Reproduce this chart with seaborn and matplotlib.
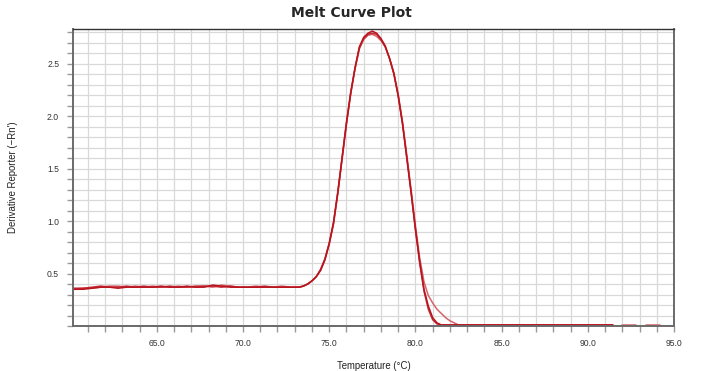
import numpy as np
import pandas as pd
import seaborn as sns
import matplotlib.pyplot as plt
from matplotlib.ticker import MultipleLocator

# temperatures (deg C)
base_temp = [60.15, 60.75, 61.25, 61.75, 62.25, 62.75, 63.25, 63.75, 64.25, 64.75,
             65.25, 65.75, 66.25, 66.75, 67.25, 67.75, 68.25, 68.75, 69.25, 69.75,
             70.25, 70.75, 71.25, 71.75, 72.25, 72.75]
peak_temp = [73.0, 73.25, 73.5, 73.75, 74.0, 74.25, 74.5, 74.75, 75.0, 75.25,
             75.5, 75.75, 76.0, 76.25, 76.5, 76.75, 77.0, 77.25, 77.5, 77.75,
             78.0, 78.25, 78.5, 78.75, 79.0, 79.25, 79.5, 79.75, 80.0, 80.25,
             80.5, 80.75, 81.0, 81.25, 81.5, 81.75, 82.0, 82.25, 82.5, 82.75]
tail_temp = [83.0, 84.0, 85.0, 86.0, 87.0, 88.0, 89.0, 90.0, 91.0, 91.45]

# derivative reporter values for the three wells
well_a_base = [0.35, 0.35, 0.36, 0.37, 0.37, 0.36, 0.37, 0.37, 0.37, 0.37,
               0.38, 0.37, 0.37, 0.38, 0.37, 0.37, 0.39, 0.38, 0.37, 0.37,
               0.37, 0.37, 0.37, 0.37, 0.37, 0.37]
well_b_base = [0.36, 0.36, 0.37, 0.38, 0.37, 0.37, 0.38, 0.37, 0.38, 0.37,
               0.37, 0.38, 0.37, 0.37, 0.38, 0.38, 0.38, 0.37, 0.38, 0.37,
               0.37, 0.37, 0.38, 0.37, 0.37, 0.37]
well_c_base = [0.35, 0.36, 0.36, 0.37, 0.38, 0.38, 0.37, 0.38, 0.37, 0.38,
               0.37, 0.37, 0.38, 0.37, 0.37, 0.38, 0.37, 0.39, 0.38, 0.37,
               0.37, 0.38, 0.37, 0.37, 0.38, 0.37]

well_a_peak = [0.37, 0.37, 0.38, 0.40, 0.43, 0.47, 0.53, 0.63, 0.78, 0.98,
               1.27, 1.60, 1.93, 2.22, 2.46, 2.66, 2.75, 2.79, 2.81, 2.79,
               2.74, 2.67, 2.55, 2.41, 2.20, 1.93, 1.60, 1.27, 0.92, 0.61,
               0.35, 0.19, 0.08, 0.03, 0.01, 0.01, 0.01, 0.01, 0.01, 0.01]
well_b_peak = [0.37, 0.37, 0.38, 0.40, 0.43, 0.47, 0.54, 0.64, 0.79, 0.99,
               1.28, 1.61, 1.94, 2.23, 2.46, 2.65, 2.74, 2.78, 2.79, 2.78,
               2.73, 2.66, 2.55, 2.40, 2.19, 1.93, 1.61, 1.28, 0.93, 0.60,
               0.33, 0.16, 0.06, 0.02, 0.01, 0.01, 0.01, 0.01, 0.01, 0.01]
well_c_peak = [0.37, 0.37, 0.38, 0.40, 0.43, 0.47, 0.53, 0.63, 0.78, 0.97,
               1.26, 1.59, 1.92, 2.21, 2.45, 2.64, 2.73, 2.77, 2.78, 2.76,
               2.72, 2.66, 2.55, 2.41, 2.21, 1.95, 1.63, 1.30, 0.96, 0.65,
               0.42, 0.29, 0.22, 0.16, 0.12, 0.08, 0.05, 0.03, 0.01, 0.01]
tail_value = [0.01, 0.01, 0.01, 0.01, 0.01, 0.01, 0.01, 0.01, 0.01, 0.01]

# short pieces of well C after the gaps
extra_temp = [[92.0, 92.8], [93.4, 94.2]]
extra_value = [[0.01, 0.01], [0.01, 0.01]]

wells = {
    'A': (well_a_base + well_a_peak + tail_value, '#b8141e'),
    'B': (well_b_base + well_b_peak + tail_value, '#c42a33'),
    'C': (well_c_base + well_c_peak + tail_value, '#d6636a'),
}
temp = base_temp + peak_temp + tail_temp

sns.set_style('white')
plt.rcParams['font.family'] = ['Liberation Sans', 'DejaVu Sans']

fig = plt.figure(figsize=(7.11, 3.71), dpi=100)
ax = fig.add_axes([73 / 711, 1 - 326 / 371, 601 / 711, 297 / 371])

# gridlines at every degree and every 0.1
ax.xaxis.set_major_locator(MultipleLocator(5))
ax.xaxis.set_minor_locator(MultipleLocator(1))
ax.yaxis.set_major_locator(MultipleLocator(0.5))
ax.yaxis.set_minor_locator(MultipleLocator(0.1))
ax.grid(which='both', color='#d9d9d9', linewidth=0.9)
ax.set_axisbelow(True)

for name in ['C', 'B', 'A']:
    vals, col = wells[name]
    df = pd.DataFrame({'temp': temp, 'deriv': vals})
    sns.lineplot(data=df, x='temp', y='deriv', color=col, linewidth=1.1,
                 sort=False, estimator=None, ax=ax)
for xs, ys in zip(extra_temp, extra_value):
    sns.lineplot(x=xs, y=ys, color=wells['C'][1], linewidth=1.1,
                 sort=False, estimator=None, ax=ax)

ax.set_xlim(60.14, 95.0)
ax.set_ylim(0, 2.83)
ax.set_xticks([65, 70, 75, 80, 85, 90, 95])
ax.set_xticklabels(['65.0', '70.0', '75.0', '80.0', '85.0', '90.0', '95.0'])
ax.set_yticks([0.5, 1.0, 1.5, 2.0, 2.5])
ax.set_yticklabels(['0.5', '1.0', '1.5', '2.0', '2.5'])

ax.tick_params(which='both', direction='out', color='#999999', labelsize=6.2,
               labelcolor='#333333', width=1)
ax.tick_params(which='both', length=4)
ax.tick_params(axis='x', which='major', pad=5)
ax.tick_params(axis='y', which='major', pad=6)
ax.tick_params(axis='x', which='both', bottom=True)
ax.tick_params(axis='y', which='both', left=True)

for side in ['left', 'bottom', 'right']:
    ax.spines[side].set_color('#6a6a6a')
    ax.spines[side].set_linewidth(1.4)
ax.spines['top'].set_color('#333333')
ax.spines['top'].set_linewidth(1.0)

ax.set_xlabel('Temperature (°C)', fontsize=6.9, color='#222222')
ax.set_ylabel("Derivative Reporter (−Rn')", fontsize=6.9, color='#222222')
ax.xaxis.set_label_coords(0.5, -0.117)
ax.yaxis.set_label_coords(-0.092, 0.5)
fig.suptitle('Melt Curve Plot', x=0.494, y=0.985, fontsize=10, fontweight='bold',
             family='DejaVu Sans')

fig.savefig('out.png', dpi=100)
